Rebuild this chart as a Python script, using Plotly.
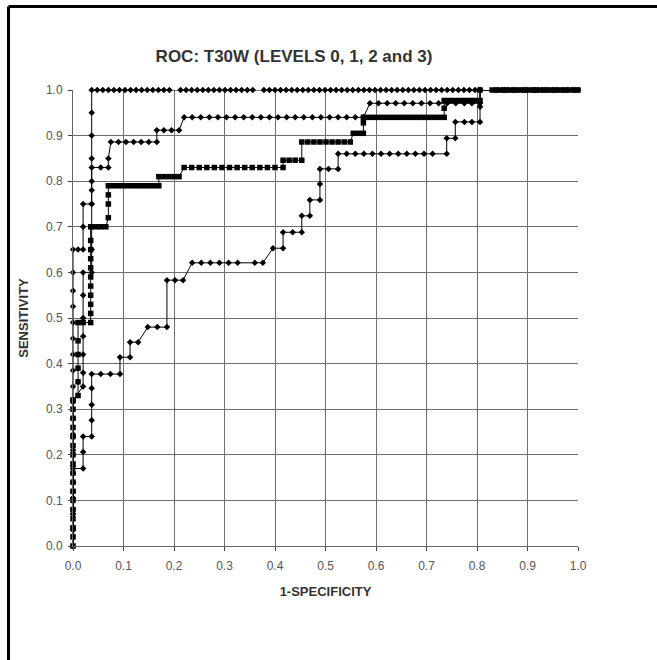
import plotly.graph_objects as go

# ---------------- data ----------------
title_text = "ROC: T30W (LEVELS 0, 1, 2 and 3)"
x_title = "1-SPECIFICITY"
y_title = "SENSITIVITY"
tick_vals = [0.0, 0.1, 0.2, 0.3, 0.4, 0.5, 0.6, 0.7, 0.8, 0.9, 1.0]
tick_text = ["0.0", "0.1", "0.2", "0.3", "0.4", "0.5", "0.6", "0.7", "0.8", "0.9", "1.0"]

# curve A: best curve (reaches 1.0 at ~0.04)
curve_a = [
    (0.0, 0.0), (0.0, 0.035), (0.0, 0.07), (0.0, 0.105), (0.0, 0.14), (0.0, 0.175),
    (0.0, 0.21), (0.0, 0.245), (0.0, 0.28), (0.0, 0.315), (0.0, 0.35), (0.0, 0.385),
    (0.0, 0.42), (0.0, 0.455), (0.0, 0.49), (0.0, 0.525), (0.0, 0.56), (0.0, 0.6),
    (0.0, 0.65), (0.01, 0.65), (0.02, 0.65), (0.02, 0.70), (0.02, 0.75), (0.037, 0.75),
    (0.037, 0.80), (0.037, 0.85), (0.037, 0.90), (0.037, 0.95), (0.037, 1.0),
    (0.048, 1.0), (0.059, 1.0), (0.07, 1.0), (0.081, 1.0), (0.092, 1.0), (0.103, 1.0),
    (0.114, 1.0), (0.125, 1.0), (0.136, 1.0), (0.147, 1.0), (0.158, 1.0), (0.169, 1.0),
    (0.18, 1.0), (0.191, 1.0), (0.213, 1.0), (0.224, 1.0), (0.235, 1.0), (0.246, 1.0),
    (0.257, 1.0), (0.268, 1.0), (0.279, 1.0), (0.29, 1.0), (0.301, 1.0), (0.312, 1.0),
    (0.323, 1.0), (0.334, 1.0), (0.345, 1.0), (0.356, 1.0), (0.378, 1.0), (0.389, 1.0),
    (0.4, 1.0), (0.411, 1.0), (0.422, 1.0), (0.433, 1.0), (0.444, 1.0), (0.455, 1.0),
    (0.466, 1.0), (0.477, 1.0), (0.488, 1.0), (0.499, 1.0), (0.51, 1.0), (0.521, 1.0),
    (0.532, 1.0), (0.543, 1.0), (0.554, 1.0), (0.565, 1.0), (0.576, 1.0), (0.587, 1.0),
    (0.598, 1.0), (0.609, 1.0), (0.62, 1.0), (0.631, 1.0), (0.642, 1.0), (0.653, 1.0),
    (0.664, 1.0), (0.675, 1.0), (0.686, 1.0), (0.697, 1.0), (0.708, 1.0), (0.719, 1.0),
    (0.73, 1.0), (0.741, 1.0), (0.752, 1.0), (0.763, 1.0), (0.774, 1.0), (0.785, 1.0),
    (0.796, 1.0), (0.806, 1.0), (0.835, 1.0), (0.855, 1.0), (0.875, 1.0), (0.895, 1.0),
    (0.915, 1.0), (0.935, 1.0), (0.955, 1.0), (0.975, 1.0), (0.995, 1.0),
]

# curve B: second curve (0.94 plateau)
curve_b = [
    (0.0, 0.0), (0.0, 0.04), (0.0, 0.08), (0.0, 0.12), (0.0, 0.16), (0.0, 0.20),
    (0.0, 0.24), (0.0, 0.28), (0.0, 0.32), (0.02, 0.35), (0.02, 0.38), (0.02, 0.42),
    (0.02, 0.46), (0.02, 0.50), (0.02, 0.55), (0.02, 0.60), (0.037, 0.60), (0.037, 0.65),
    (0.037, 0.70), (0.037, 0.75), (0.037, 0.78), (0.037, 0.83), (0.055, 0.83),
    (0.07, 0.83), (0.07, 0.85), (0.075, 0.886), (0.09, 0.886), (0.105, 0.886),
    (0.12, 0.886), (0.135, 0.886), (0.15, 0.886), (0.166, 0.886), (0.166, 0.912),
    (0.18, 0.912), (0.195, 0.912), (0.21, 0.912), (0.22, 0.94), (0.236, 0.94),
    (0.253, 0.94), (0.27, 0.94), (0.287, 0.94), (0.304, 0.94), (0.321, 0.94),
    (0.338, 0.94), (0.355, 0.94), (0.372, 0.94), (0.389, 0.94), (0.406, 0.94),
    (0.423, 0.94), (0.44, 0.94), (0.457, 0.94), (0.474, 0.94), (0.491, 0.94),
    (0.508, 0.94), (0.525, 0.94), (0.542, 0.94), (0.559, 0.94), (0.575, 0.94),
    (0.588, 0.971), (0.605, 0.971), (0.622, 0.971), (0.639, 0.971), (0.656, 0.971),
    (0.673, 0.971), (0.69, 0.971), (0.707, 0.971), (0.724, 0.971), (0.741, 0.971),
    (0.758, 0.971), (0.775, 0.971), (0.79, 0.971), (0.806, 0.971), (0.806, 1.0),
    (0.84, 1.0), (0.86, 1.0), (0.88, 1.0), (0.9, 1.0), (0.92, 1.0), (0.94, 1.0),
    (0.96, 1.0), (0.98, 1.0), (1.0, 1.0),
]

# curve C: the heavy curve with dense square markers
curve_c = [
    (0.0, 0.0), (0.0, 0.02), (0.0, 0.04), (0.0, 0.06), (0.0, 0.08), (0.0, 0.10),
    (0.0, 0.12), (0.0, 0.14), (0.0, 0.16), (0.0, 0.18), (0.0, 0.20), (0.0, 0.22),
    (0.0, 0.24), (0.0, 0.26), (0.0, 0.28), (0.0, 0.30), (0.0, 0.32), (0.01, 0.33),
    (0.01, 0.36), (0.01, 0.39), (0.01, 0.42), (0.01, 0.45), (0.01, 0.49), (0.02, 0.49),
    (0.035, 0.49), (0.035, 0.51), (0.035, 0.53), (0.035, 0.55), (0.035, 0.57),
    (0.035, 0.59), (0.035, 0.61), (0.035, 0.63), (0.035, 0.65), (0.035, 0.67),
    (0.035, 0.70), (0.045, 0.70), (0.055, 0.70), (0.065, 0.70), (0.07, 0.72),
    (0.07, 0.75), (0.07, 0.77), (0.07, 0.79), (0.08, 0.79), (0.09, 0.79), (0.10, 0.79),
    (0.11, 0.79), (0.12, 0.79), (0.13, 0.79), (0.14, 0.79), (0.15, 0.79), (0.16, 0.79),
    (0.17, 0.79), (0.17, 0.81), (0.18, 0.81), (0.19, 0.81), (0.20, 0.81), (0.21, 0.81),
    (0.22, 0.83), (0.235, 0.83), (0.25, 0.83), (0.265, 0.83), (0.28, 0.83),
    (0.295, 0.83), (0.31, 0.83), (0.325, 0.83), (0.34, 0.83), (0.355, 0.83),
    (0.37, 0.83), (0.385, 0.83), (0.40, 0.83), (0.416, 0.83), (0.416, 0.846),
    (0.428, 0.846), (0.44, 0.846), (0.453, 0.846), (0.453, 0.886), (0.465, 0.886),
    (0.477, 0.886), (0.489, 0.886), (0.501, 0.886), (0.513, 0.886), (0.525, 0.886),
    (0.537, 0.886), (0.549, 0.886), (0.555, 0.905), (0.565, 0.905), (0.575, 0.905),
    (0.575, 0.928), (0.575, 0.94), (0.585, 0.94), (0.595, 0.94), (0.605, 0.94),
    (0.615, 0.94), (0.625, 0.94), (0.635, 0.94), (0.645, 0.94), (0.655, 0.94),
    (0.665, 0.94), (0.675, 0.94), (0.685, 0.94), (0.695, 0.94), (0.705, 0.94),
    (0.715, 0.94), (0.725, 0.94), (0.735, 0.94), (0.735, 0.96), (0.735, 0.977),
    (0.745, 0.977), (0.755, 0.977), (0.765, 0.977), (0.775, 0.977), (0.785, 0.977),
    (0.795, 0.977), (0.806, 0.977), (0.806, 1.0), (0.83, 1.0), (0.84, 1.0),
    (0.85, 1.0), (0.86, 1.0), (0.87, 1.0), (0.88, 1.0), (0.89, 1.0), (0.90, 1.0),
    (0.91, 1.0), (0.92, 1.0), (0.93, 1.0), (0.94, 1.0), (0.95, 1.0), (0.96, 1.0),
    (0.97, 1.0), (0.98, 1.0), (0.99, 1.0), (1.0, 1.0),
]

# curve D: the lowest curve
curve_d = [
    (0.0, 0.0), (0.0, 0.035), (0.0, 0.07), (0.0, 0.105), (0.0, 0.14), (0.0, 0.17),
    (0.02, 0.17), (0.02, 0.206), (0.02, 0.24), (0.037, 0.24), (0.037, 0.276),
    (0.037, 0.31), (0.037, 0.346), (0.037, 0.377), (0.055, 0.377), (0.074, 0.377),
    (0.093, 0.377), (0.093, 0.414), (0.113, 0.414), (0.113, 0.447), (0.129, 0.447),
    (0.148, 0.48), (0.167, 0.48), (0.186, 0.48), (0.186, 0.583), (0.202, 0.583),
    (0.218, 0.583), (0.236, 0.621), (0.254, 0.621), (0.272, 0.621), (0.29, 0.621),
    (0.308, 0.621), (0.326, 0.621), (0.36, 0.621), (0.376, 0.621), (0.396, 0.653),
    (0.416, 0.653), (0.416, 0.688), (0.435, 0.688), (0.453, 0.688), (0.453, 0.724),
    (0.469, 0.724), (0.469, 0.759), (0.489, 0.759), (0.489, 0.794), (0.489, 0.827),
    (0.506, 0.827), (0.525, 0.827), (0.525, 0.86), (0.542, 0.86), (0.559, 0.86),
    (0.576, 0.86), (0.593, 0.86), (0.61, 0.86), (0.627, 0.86), (0.644, 0.86),
    (0.661, 0.86), (0.678, 0.86), (0.695, 0.86), (0.712, 0.86), (0.74, 0.86),
    (0.74, 0.894), (0.757, 0.894), (0.757, 0.93), (0.775, 0.93), (0.79, 0.93),
    (0.806, 0.93), (0.806, 0.963), (0.806, 1.0), (0.85, 1.0), (0.87, 1.0),
    (0.89, 1.0), (0.91, 1.0), (0.93, 1.0), (0.95, 1.0), (0.97, 1.0), (0.99, 1.0),
]

# ---------------- figure ----------------
W, H = 657, 660
ML, MR, MT, MB = 73, 79, 90, 114
FONT = "Liberation Sans, Arial, sans-serif"

fig = go.Figure()

def add_curve(points, symbol, size):
    xs = [p[0] for p in points]
    ys = [p[1] for p in points]
    fig.add_trace(go.Scatter(
        x=xs, y=ys, mode="lines+markers", cliponaxis=False,
        line=dict(color="black", width=1),
        marker=dict(symbol=symbol, size=size, color="black"),
        showlegend=False, hoverinfo="x+y",
    ))

add_curve(curve_d, "diamond", 5)
add_curve(curve_b, "diamond", 5)
add_curve(curve_a, "diamond", 5)
add_curve(curve_c, "square", 5.5)

axis_common = dict(
    range=[0, 1], tickvals=tick_vals, ticktext=tick_text,
    showgrid=True, gridcolor="#6e6e6e", gridwidth=1.3,
    zeroline=False, showline=True, linecolor="#666666", linewidth=1,
    ticks="outside", ticklen=4, tickcolor="#444444",
    tickfont=dict(family=FONT, size=12, color="#555555"),
    fixedrange=True,
)

fig.update_xaxes(**axis_common, ticklabelstandoff=5,
                 title=dict(text="<b>%s</b>" % x_title, standoff=14,
                            font=dict(family=FONT, size=13, color="#333333")))
fig.update_yaxes(**axis_common, ticklabelstandoff=3,
                 title=dict(text="<b>%s</b>" % y_title, standoff=14,
                            font=dict(family=FONT, size=13, color="#333333")))

def px_to_paper_x(px):
    return (px - ML) / (W - ML - MR)

def px_to_paper_y(py):
    return (H - MB - py) / (H - MT - MB)

frame_left, frame_top = 8.5, 6.5
fig.add_shape(type="line", xref="paper", yref="paper",
              x0=px_to_paper_x(frame_left), x1=px_to_paper_x(frame_left),
              y0=px_to_paper_y(frame_top), y1=px_to_paper_y(H + 5),
              line=dict(color="black", width=3))
fig.add_shape(type="line", xref="paper", yref="paper",
              x0=px_to_paper_x(frame_left), x1=px_to_paper_x(W + 5),
              y0=px_to_paper_y(frame_top), y1=px_to_paper_y(frame_top),
              line=dict(color="black", width=3))

fig.update_layout(
    width=W, height=H,
    margin=dict(l=ML, r=MR, t=MT, b=MB),
    paper_bgcolor="white", plot_bgcolor="white",
    title=dict(text="<b>%s</b>" % title_text, x=294 / W, xanchor="center",
               y=1 - 56 / H, yanchor="middle",
               font=dict(family=FONT, size=17, color="#333333")),
)

fig.write_html(
    "out.html",
    config={"displayModeBar": False},
    post_script="document.body.style.margin='0';document.body.style.overflow='hidden';",
)
